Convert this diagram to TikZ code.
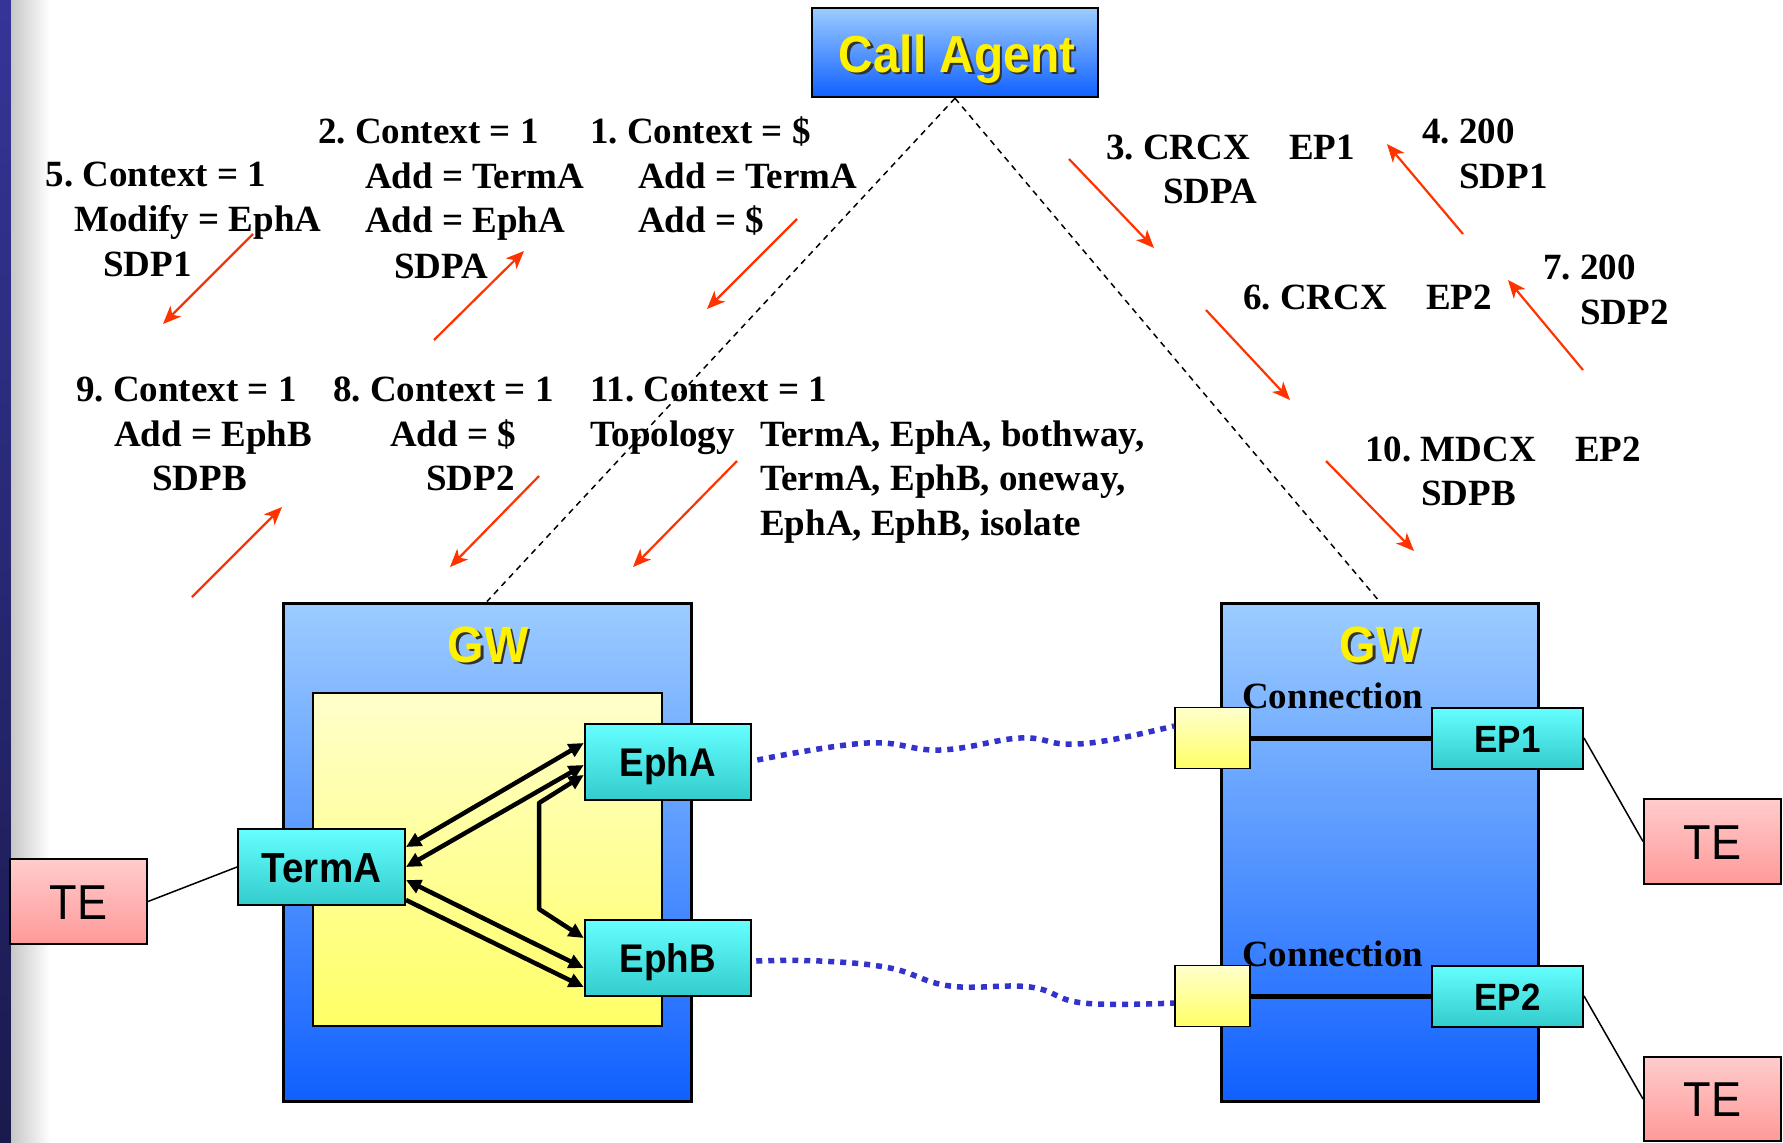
\documentclass[tikz,border=0pt]{standalone}
\usepackage{fontspec}
\setmainfont{Liberation Serif}
\newfontfamily\sfN[FakeStretch=0.92]{Liberation Sans}
\usetikzlibrary{arrows.meta,calc}
\definecolor{barTop}{RGB}{53,53,152}
\definecolor{barBot}{RGB}{26,26,78}
\definecolor{bTop}{RGB}{156,204,255}
\definecolor{bMid}{RGB}{112,160,255}
\definecolor{bBot}{RGB}{16,96,255}
\definecolor{yTop}{RGB}{255,255,204}
\definecolor{yBot}{RGB}{255,255,102}
\definecolor{cTop}{RGB}{102,255,255}
\definecolor{cBot}{RGB}{51,204,204}
\definecolor{pTop}{RGB}{255,204,204}
\definecolor{pBot}{RGB}{255,153,153}
\definecolor{redA}{RGB}{255,51,0}
\definecolor{dotB}{RGB}{51,51,204}
\newcommand\shtxt[1]{\makebox[0pt][l]{\hspace{2.5pt}\raisebox{-2.5pt}{\textcolor{black!80}{#1}}}\textcolor{yellow}{#1}}
\frenchspacing
\begin{document}
\begin{tikzpicture}[x=1pt,y=-1pt,
  lbl/.style={inner sep=0pt, anchor=base west, font=\fontsize{37}{45}\selectfont\bfseries},
  redarr/.style={draw=redA, line width=2.2pt, -{Stealth[length=18pt,width=15pt,inset=5pt]}},
  gwbox/.style={draw=black, line width=3pt, top color=bTop, middle color=bMid, bottom color=bBot, inner sep=0pt},
  cabox/.style={draw=black, line width=2.5pt, top color=bTop, bottom color=bBot, inner sep=0pt},
  ybox/.style={draw=black, line width=1.8pt, top color=yTop, bottom color=yBot, inner sep=0pt},
  cybox/.style={draw=black, line width=2pt, top color=cTop, bottom color=cBot, inner sep=0pt},
  tebox/.style={draw=black, line width=2pt, top color=pTop, bottom color=pBot, inner sep=0pt},
  cytext/.style={inner sep=0pt, anchor=base, font=\sfN\bfseries\fontsize{40}{42}\selectfont},
  tetext/.style={inner sep=0pt, anchor=base, font=\sfN\fontsize{49}{50}\selectfont},
  gwtext/.style={inner sep=0pt, anchor=base, font=\sfN\bfseries\fontsize{51}{52}\selectfont},
  dashln/.style={draw=black, line width=1.5pt, dash pattern=on 6pt off 5pt},
  teln/.style={draw=black, line width=1.5pt},
  blk/.style={draw=black, line width=4.5pt},
  tri/.tip={Triangle[length=15pt,width=14pt]},
  dotln/.style={draw=dotB, line width=5.5pt, dash pattern=on 6pt off 6pt}
]
\useasboundingbox (0,0) rectangle (1783,1143);
% left edge decoration
\shade[top color=barTop, bottom color=barBot] (0,0) rectangle (11,1143);
\shade[left color=black!22, right color=white] (11,0) rectangle (50,1143);

% Call Agent
\node[cabox, minimum width=286pt, minimum height=89pt] (ca) at (955,52.5) {};
\node[inner sep=0pt, anchor=base, font=\sfN\bfseries\fontsize{52}{54}\selectfont] (catext) at (957,72) {\shtxt{Call Agent}};

% Gateways
\node[gwbox, minimum width=408pt, minimum height=498pt] (gwl) at (487,852) {};
\node[gwbox, minimum width=317pt, minimum height=498pt] (gwr) at (1379.5,852) {};
\node[gwtext] (gwltext) at (488,662) {\shtxt{GW}};
\node[gwtext] (gwrtext) at (1380,662) {\shtxt{GW}};
\node[ybox, minimum width=349pt, minimum height=333pt] (ctx) at (487.5,859.5) {};

% dashed control lines
\draw[dashln] (ca.south) -- (gwl.north);
\draw[dashln] (ca.south) -- (gwr.north);

% terminations
\node[cybox, minimum width=167pt, minimum height=76pt] (terma) at (321.5,867) {};
\node[cytext, font=\sfN\bfseries\fontsize{42}{44}\selectfont] (termatext) at (321.5,882) {TermA};
\node[cybox, minimum width=166.5pt, minimum height=76pt] (epha) at (668,762) {};
\node[cytext] (ephatext) at (668,776) {EphA};
\node[cybox, minimum width=166.5pt, minimum height=76pt] (ephb) at (668,958) {};
\node[cytext] (ephbtext) at (668,972) {EphB};

% right gateway parts
\node[font=\fontsize{37}{45}\selectfont\bfseries, inner sep=0pt, anchor=base west] (conn1) at (1242,708) {Connection};
\node[font=\fontsize{37}{45}\selectfont\bfseries, inner sep=0pt, anchor=base west] (conn2) at (1242,966) {Connection};
\node[ybox, minimum width=75pt, minimum height=61pt] (sq1) at (1212.5,738) {};
\node[ybox, minimum width=75pt, minimum height=61pt] (sq2) at (1212.5,996) {};
\node[cybox, minimum width=151pt, minimum height=61pt] (ep1) at (1507.5,738) {};
\node[cytext, font=\sfN\bfseries\fontsize{38}{40}\selectfont] (ep1text) at (1507.5,752) {EP1};
\node[cybox, minimum width=151pt, minimum height=61pt] (ep2) at (1507.5,996) {};
\node[cytext, font=\sfN\bfseries\fontsize{38}{40}\selectfont] (ep2text) at (1507.5,1010) {EP2};
\draw[draw=black, line width=5pt] (sq1.east) -- (ep1.west);
\draw[draw=black, line width=5pt] (sq2.east) -- (ep2.west);

% terminal equipment
\node[tebox, minimum width=137pt, minimum height=85pt] (tel) at (78.5,901.5) {};
\node[tetext] (teltext) at (78.5,919) {TE};
\node[tebox, minimum width=137pt, minimum height=85pt] (te1) at (1712.5,841.5) {};
\node[tetext] (te1text) at (1712.5,859) {TE};
\node[tebox, minimum width=137pt, minimum height=84pt] (te2) at (1712.5,1099) {};
\node[tetext] (te2text) at (1712.5,1116.5) {TE};
\draw[teln] (tel.east) -- (terma.west);
\draw[teln] (ep1.east) -- (te1.west);
\draw[teln] (ep2.east) -- (te2.west);

% topology arrows inside the context
\draw[blk, tri-tri] ([yshift=20pt]terma.east) -- ([yshift=19pt]epha.west);
\draw[blk, tri-tri] ([yshift=0pt]terma.east) -- ([yshift=-3pt]epha.west);
\draw[blk, tri-tri, line join=round] ([yshift=-13pt]epha.west) -- (539,803) -- (539,909) -- ([yshift=20pt]ephb.west);
\draw[blk, tri-tri] ([yshift=-13pt]terma.east) -- ([yshift=-10pt]ephb.west);
\draw[blk, -tri] ([yshift=-33pt]terma.east) -- ([yshift=-29pt]ephb.west);

% bearer (dotted wavy) lines
\draw[dotln] plot[smooth, tension=0.7] coordinates {([xshift=5pt,yshift=2pt]epha.east) (867,743) (940,750) (1020,738) (1065,744) (1110,740) ([yshift=12pt]sq1.west)};
\draw[dotln] plot[smooth, tension=0.7] coordinates {([xshift=4pt,yshift=-3pt]ephb.east) (820,961) (890,968) (950,986) (1030,987) (1083,1003) ([yshift=-7pt]sq2.west)};

% message labels
\node[lbl] (t5a) at (45.5,186) {5. Context = 1};
\node[lbl] (t5b) at (74,231) {Modify = EphA};
\node[lbl] (t5c) at (103,276) {SDP1};
\node[lbl] (t2a) at (318,143) {2. Context = 1};
\node[lbl] (t2b) at (365,188) {Add = TermA};
\node[lbl] (t2c) at (365,232) {Add = EphA};
\node[lbl] (t2d) at (394,278) {SDPA};
\node[lbl] (t1a) at (590,143) {1. Context = \$};
\node[lbl] (t1b) at (638,188) {Add = TermA};
\node[lbl] (t1c) at (638,232) {Add = \$};
\node[lbl] (t3a) at (1106,159) {3. CRCX};
\node[lbl] (t3b) at (1289,159) {EP1};
\node[lbl] (t3c) at (1163,203) {SDPA};
\node[lbl] (t4a) at (1422,143) {4. 200};
\node[lbl] (t4b) at (1459,188) {SDP1};
\node[lbl] (t6a) at (1243,309) {6. CRCX};
\node[lbl] (t6b) at (1426,309) {EP2};
\node[lbl] (t7a) at (1543,279) {7. 200};
\node[lbl] (t7b) at (1580,324) {SDP2};
\node[lbl] (t10a) at (1365,461) {10. MDCX};
\node[lbl] (t10b) at (1575,461) {EP2};
\node[lbl] (t10c) at (1421,505) {SDPB};
\node[lbl] (t9a) at (76,401) {9. Context = 1};
\node[lbl] (t9b) at (114,446) {Add = EphB};
\node[lbl] (t9c) at (152,490) {SDPB};
\node[lbl] (t8a) at (333,401) {8. Context = 1};
\node[lbl] (t8b) at (390,446) {Add = \$};
\node[lbl] (t8c) at (426,490) {SDP2};
\node[lbl] (t11a) at (590,401) {11. Context = 1};
\node[lbl] (t11b) at (590,446) {Topology};
\node[lbl] (t11c) at (760,446) {TermA, EphA, bothway,};
\node[lbl] (t11d) at (760,490) {TermA, EphB, oneway,};
\node[lbl] (t11e) at (760,535) {EphA, EphB, isolate};

% red message arrows
\coordinate (a5s) at (253,234);  \coordinate (a5e) at (163,324);
\coordinate (a2s) at (434,340);  \coordinate (a2e) at (524,251);
\coordinate (a1s) at (797,219);  \coordinate (a1e) at (707,309);
\coordinate (a3s) at (1069,159); \coordinate (a3e) at (1154,248);
\coordinate (a4s) at (1463,234); \coordinate (a4e) at (1387,144);
\coordinate (a6s) at (1206,310); \coordinate (a6e) at (1290,400);
\coordinate (a7s) at (1583,370); \coordinate (a7e) at (1508,280);
\coordinate (a10s) at (1326,461); \coordinate (a10e) at (1414,551);
\coordinate (a9s) at (192,597);  \coordinate (a9e) at (282,507);
\coordinate (a8s) at (539,476);  \coordinate (a8e) at (450,567);
\coordinate (a11s) at (737,461); \coordinate (a11e) at (633,567);
\foreach \n in {5,2,1,3,4,6,7,10,9,8,11} {\draw[redarr] (a\n s) -- (a\n e);}
\end{tikzpicture}
\end{document}
